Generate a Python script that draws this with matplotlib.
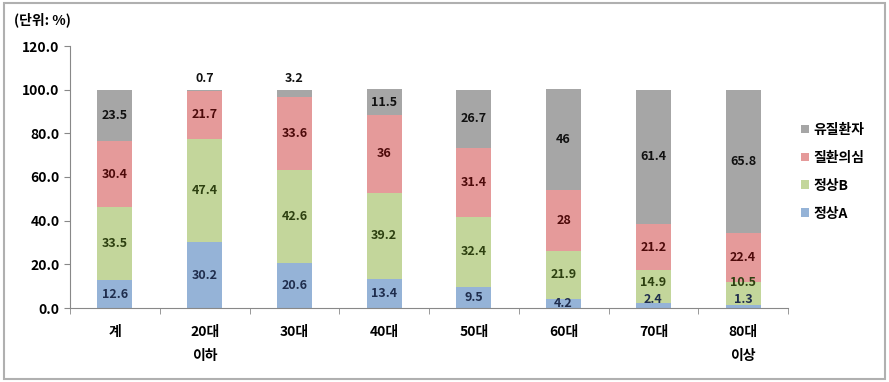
import matplotlib.pyplot as plt
import numpy as np
from matplotlib.patches import Rectangle

plt.rcParams['font.family'] = ['Noto Sans CJK KR', 'DejaVu Sans']

categories = ["계", "20대\n이하", "30대", "40대", "50대", "60대", "70대", "80대\n이상"]
normal_a = [12.6, 30.2, 20.6, 13.4, 9.5, 4.2, 2.4, 1.3]
normal_b = [33.5, 47.4, 42.6, 39.2, 32.4, 21.9, 14.9, 10.5]
suspect = [30.4, 21.7, 33.6, 36, 31.4, 28, 21.2, 22.4]
patient = [23.5, 0.7, 3.2, 11.5, 26.7, 46, 61.4, 65.8]

series = [
    ("정상A", normal_a, "#95b3d7", "#1f2d4d"),
    ("정상B", normal_b, "#c3d69b", "#2d4010"),
    ("질환의심", suspect, "#e59a9a", "#4d0a0a"),
    ("유질환자", patient, "#a6a6a6", "#111111"),
]

fig = plt.figure(figsize=(8.89, 3.82), dpi=100)
ax = fig.add_axes([70 / 889, 1 - 308 / 382, 718 / 889, 262 / 382])
fig.patches.append(Rectangle((0.004, 0.008), 0.992, 0.984, transform=fig.transFigure,
                             fill=False, edgecolor="#b0b0b0", lw=1.5))

x = np.arange(len(categories))
bottom = np.zeros(len(categories))
prev_small = np.zeros(len(categories), dtype=bool)
handles = []
for name, vals, color, tcolor in series:
    vals = np.array(vals, dtype=float)
    b = ax.bar(x, vals, 0.39, bottom=bottom, color=color, label=name)
    handles.append(b)
    small = np.zeros(len(categories), dtype=bool)
    for i, v in enumerate(vals):
        if name == "유질환자" and v < 5.0:
            y = 105
        elif v < 3.0:
            y = 3.8
            small[i] = True
        else:
            y = bottom[i] + v / 2
            if prev_small[i]:
                y = max(y, 11.8)
        ax.text(x[i], y, f"{v:g}", ha="center", va="center", fontsize=9,
                fontweight="bold", color=tcolor if y < 100 else "#111111")
    prev_small = small
    bottom += vals

ax.set_ylim(0, 120)
ax.set_xlim(-0.5, len(categories) - 0.5)
ax.set_yticks(np.arange(0, 121, 20))
ax.set_yticklabels([f"{t:.1f}" for t in np.arange(0, 121, 20)], fontsize=10, fontweight="bold")
ax.set_xticks(x)
ax.set_xticklabels(categories, fontsize=10, fontweight="bold", linespacing=1.9)
ax.tick_params(axis="x", length=0, pad=12)
ax.set_xticks(np.arange(-0.5, len(categories), 1), minor=True)
ax.tick_params(axis="x", which="minor", length=4, color="#888888")
ax.tick_params(axis="y", length=4, color="#888888")
for s in ["top", "right"]:
    ax.spines[s].set_visible(False)
ax.spines["left"].set_color("#888888")
ax.spines["bottom"].set_color("#888888")

fig.text(14 / 889, 1 - 20 / 382, "(단위: %)", fontsize=10, fontweight="bold", va="center")

ax.legend(handles[::-1], [s[0] for s in series][::-1], loc="center left",
          bbox_to_anchor=(1.0, 0.52), frameon=False,
          prop={"weight": "bold", "size": 10}, handlelength=0.6, handleheight=0.6,
          labelspacing=1.0, handletextpad=0.3)

fig.savefig("out.png", dpi=100)
